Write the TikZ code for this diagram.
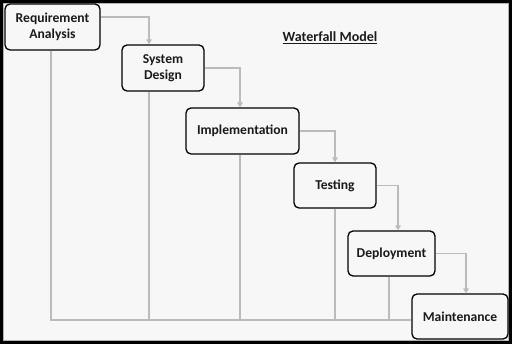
\documentclass[tikz,border=0pt]{standalone}
\usepackage{fontspec}
\setmainfont{Carlito}
\usetikzlibrary{arrows.meta,calc}
\definecolor{bgc}{HTML}{F7F7F7}
\definecolor{conn}{HTML}{BBBBBB}
\definecolor{txt}{HTML}{1A1A1A}
\tikzset{
  phase/.style={draw=black, line width=1.3pt, rounded corners=5pt, fill=bgc,
    text=txt, font=\fontsize{13.6}{16}\selectfont\bfseries, align=center, inner sep=0pt},
  flow/.style={draw=conn, line width=1.8pt, -{Triangle[length=5pt,width=5.5pt]}},
  back/.style={draw=conn, line width=1.8pt}
}
\begin{document}
\begin{tikzpicture}[x=1pt,y=-1pt]
\fill[bgc] (0,0) rectangle (512,344);
\useasboundingbox (0,0) rectangle (512,344);
\draw[line width=3pt] (1.5,1.5) rectangle (510.5,342.5);
\draw[gray!60, line width=0.6pt] (3.6,3.6) rectangle (508.4,340.4);

\node[font=\fontsize{14}{16}\selectfont\bfseries, text=txt] (title) at (330,38) {\underline{Waterfall\ Model}};

\coordinate (B) at (51,320);
\node[phase, minimum width=95pt, minimum height=46pt] (ra) at (52.5,27) {Requirement\\Analysis};
\node[phase, minimum width=82pt, minimum height=46pt] (sd) at (163,68) {System\\Design};
\node[phase, minimum width=113pt, minimum height=46pt] (im) at (242.5,131) {Implementation};
\node[phase, minimum width=82pt, minimum height=45pt] (te) at (335,185.5) {Testing};
\node[phase, minimum width=87pt, minimum height=45pt] (de) at (391.5,253.5) {Deployment};
\node[phase, minimum width=96pt, minimum height=45pt] (ma) at (460,316.5) {Maintenance};

\draw[back] (ra.south -| B) -- (B) -- (B -| ma.west);
\draw[back] (sd.south -| 149,0) -- (B -| 149,0);
\draw[back] (im.south -| 240,0) -- (B -| 240,0);
\draw[back] (te.south -| 335,0) -- (B -| 335,0);
\draw[back] (de.south -| 389,0) -- (B -| 389,0);

\draw[flow] ($(ra.north east)+(0,14)$) -| (sd.north -| 149,0);
\draw[flow] (sd.east) -| (im.north -| 240,0);
\draw[flow] (im.east) -| (te.north);
\draw[flow] (te.east) -| (de.north -| 398,0);
\draw[flow] (de.east) -| (ma.north -| 466,0);
\end{tikzpicture}
\end{document}
